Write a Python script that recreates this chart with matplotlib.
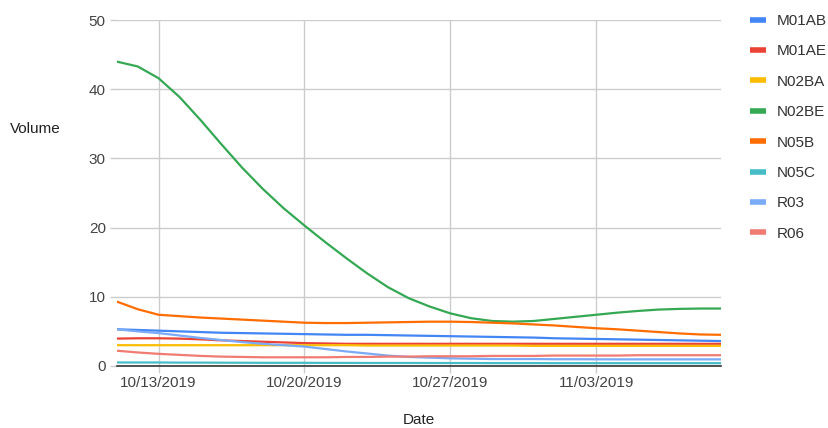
import matplotlib
matplotlib.use("Agg")
import matplotlib.pyplot as plt
import matplotlib.dates as mdates
import pandas as pd

plt.rcParams["font.family"] = ["Liberation Sans", "DejaVu Sans"]

dates = pd.date_range("2019-10-11", "2019-11-09", freq="D")

M01AB = [5.3, 5.2, 5.1, 5.0, 4.9, 4.8, 4.75, 4.7, 4.65, 4.6, 4.55, 4.5, 4.5, 4.45, 4.4,
         4.35, 4.3, 4.25, 4.2, 4.15, 4.1, 4.0, 3.95, 3.9, 3.85, 3.8, 3.75, 3.7, 3.65, 3.6]
M01AE = [3.95, 4.0, 4.0, 3.95, 3.85, 3.7, 3.6, 3.5, 3.4, 3.3, 3.25, 3.2, 3.2, 3.2, 3.2,
         3.2, 3.2, 3.2, 3.2, 3.2, 3.2, 3.2, 3.2, 3.2, 3.2, 3.2, 3.2, 3.2, 3.2, 3.2]
N02BA = [3.0, 3.0, 3.0, 3.0, 3.0, 3.0, 3.0, 3.0, 3.0, 3.0, 3.0, 3.0, 2.95, 2.95, 2.95,
         2.95, 2.95, 2.95, 2.95, 2.95, 2.9, 2.9, 2.9, 2.9, 2.9, 2.9, 2.9, 2.9, 2.9, 2.9]
N02BE = [44.0, 43.3, 41.6, 38.9, 35.6, 32.1, 28.7, 25.6, 22.8, 20.3, 17.9, 15.6, 13.4, 11.4, 9.8,
         8.6, 7.6, 6.9, 6.5, 6.4, 6.5, 6.8, 7.1, 7.4, 7.7, 7.95, 8.15, 8.25, 8.3, 8.3]
N05B = [9.3, 8.2, 7.4, 7.2, 7.0, 6.85, 6.7, 6.55, 6.4, 6.25, 6.2, 6.2, 6.25, 6.3, 6.35,
        6.4, 6.4, 6.35, 6.25, 6.15, 6.0, 5.85, 5.65, 5.45, 5.3, 5.1, 4.9, 4.7, 4.55, 4.5]
N05C = [0.5, 0.5, 0.5, 0.48, 0.48, 0.47, 0.46, 0.45, 0.45, 0.45, 0.44, 0.44, 0.43, 0.43, 0.43,
        0.42, 0.42, 0.42, 0.41, 0.41, 0.41, 0.4, 0.4, 0.4, 0.4, 0.4, 0.4, 0.4, 0.4, 0.4]
R03 = [5.3, 5.0, 4.75, 4.4, 4.05, 3.75, 3.45, 3.2, 3.0, 2.8, 2.45, 2.1, 1.8, 1.5, 1.3,
       1.2, 1.1, 1.05, 1.0, 1.0, 1.0, 0.97, 0.97, 0.96, 0.95, 0.95, 0.95, 0.95, 0.95, 0.95]
R06 = [2.2, 1.95, 1.75, 1.6, 1.45, 1.35, 1.3, 1.25, 1.25, 1.25, 1.25, 1.3, 1.3, 1.35, 1.35,
       1.4, 1.4, 1.4, 1.45, 1.45, 1.45, 1.5, 1.5, 1.5, 1.5, 1.55, 1.55, 1.55, 1.55, 1.55]

series = [
    ("M01AB", M01AB, "#4285F4"),
    ("M01AE", M01AE, "#EA4335"),
    ("N02BA", N02BA, "#FBBC04"),
    ("N02BE", N02BE, "#34A853"),
    ("N05B", N05B, "#FF6D01"),
    ("N05C", N05C, "#46BDC6"),
    ("R03", R03, "#7BAAF7"),
    ("R06", R06, "#F07B72"),
]

fig = plt.figure(figsize=(8.29, 4.28), dpi=100, facecolor="white")
ax = fig.add_axes([0.141, 0.145, 0.729, 0.808])

for name, vals, col in series:
    ax.plot(dates, vals, color=col, lw=1.6, label=name, solid_capstyle="round")

ax.set_xlim(pd.Timestamp("2019-10-11"), pd.Timestamp("2019-11-09"))
ax.set_ylim(0, 50)
ax.set_yticks(range(0, 51, 10))
ax.xaxis.set_major_locator(mdates.WeekdayLocator(byweekday=mdates.SU))
ax.xaxis.set_major_formatter(mdates.DateFormatter("%m/%d/%Y"))

ax.grid(True, color="#cccccc", lw=1)
ax.set_axisbelow(True)
for s in ["top", "right", "left"]:
    ax.spines[s].set_visible(False)
ax.spines["bottom"].set_color("#333333")
ax.spines["bottom"].set_linewidth(1.2)
ax.tick_params(axis="both", colors="#cccccc", labelcolor="#444444", labelsize=11,
               length=5, width=1)
ax.tick_params(axis="y", pad=3)
ax.tick_params(axis="x", pad=2)

ax.set_xlabel("Date", fontsize=11, color="#222222", labelpad=17)
ax.set_ylabel("Volume", fontsize=11, color="#222222", rotation=0, labelpad=0)
ax.yaxis.set_label_coords(-0.135, 0.665)

leg = ax.legend(loc="upper left", bbox_to_anchor=(1.038, 1.035), frameon=False,
                fontsize=11, handlelength=1.0, handletextpad=0.7,
                labelspacing=1.07, borderaxespad=0)
for h in leg.get_lines():
    h.set_linewidth(4)
    h.set_solid_capstyle("butt")
for t in leg.get_texts():
    t.set_color("#333333")

fig.savefig("out.png", dpi=100, facecolor="white")
